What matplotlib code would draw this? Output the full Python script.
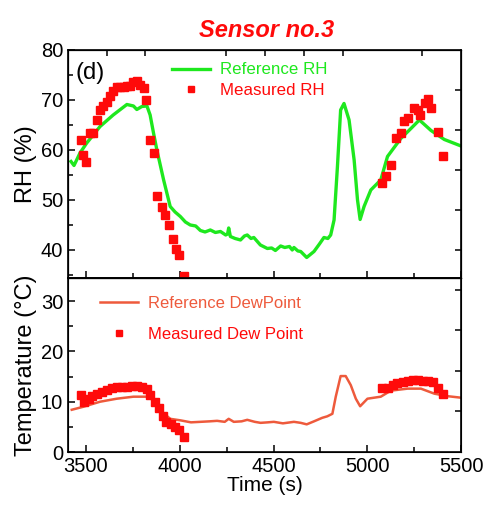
import matplotlib
matplotlib.use("Agg")
import matplotlib.pyplot as plt
from matplotlib.ticker import MultipleLocator, FixedLocator

plt.rcParams['font.family'] = ['Liberation Sans', 'DejaVu Sans']

# Reference relative humidity (sensor 3)
ref_rh_t = [3420, 3436, 3468, 3504, 3575, 3645, 3718, 3753, 3771, 3798, 3825, 3842,
            3860, 3878, 3914, 3949, 3975, 4003, 4030, 4056, 4085, 4110, 4135, 4163,
            4190, 4217, 4245, 4255, 4261, 4270, 4295, 4324, 4345, 4360, 4380, 4395,
            4430, 4467, 4490, 4510, 4538, 4560, 4585, 4600, 4609, 4630, 4645, 4677,
            4716, 4745, 4769, 4790, 4805, 4823, 4841, 4858, 4876, 4903, 4930, 4948,
            4962, 4983, 5019, 5072, 5108, 5179, 5233, 5278, 5340, 5411, 5500]
ref_rh = [57.7, 56.9, 59.4, 61.4, 64.7, 67.0, 69.1, 68.8, 68.1, 68.7, 68.8, 67.0,
          63.4, 60.0, 54.0, 48.7, 47.6, 46.7, 45.6, 45.0, 44.8, 43.9, 43.6, 44.0,
          43.5, 43.7, 43.0, 43.2, 44.4, 42.7, 42.3, 42.0, 42.8, 43.0, 42.3, 42.5,
          41.0, 40.3, 40.4, 39.9, 40.8, 40.5, 40.7, 40.0, 40.5, 39.8, 39.7, 38.5,
          39.7, 41.2, 42.5, 42.3, 43.0, 46.0, 56.7, 68.0, 69.3, 66.0, 58.0, 50.0,
          46.1, 48.7, 52.0, 54.0, 58.7, 62.3, 64.3, 66.0, 63.9, 62.1, 60.8]

# Measured relative humidity
meas_rh_t = [3474, 3486, 3499, 3522, 3539, 3557, 3575, 3593, 3611, 3629, 3646, 3664,
             3682, 3700, 3718, 3736, 3753, 3771, 3789, 3807, 3819, 3842, 3860, 3881,
             3903, 3923, 3940, 3962, 3980, 3998, 4021,
             5081, 5099, 5126, 5153, 5179, 5197, 5219, 5247, 5268, 5282, 5307, 5325,
             5340, 5379, 5402]
meas_rh = [62.0, 59.0, 57.5, 63.3, 63.3, 66.0, 68.0, 68.7, 69.5, 70.7, 71.7, 72.5,
           72.5, 72.5, 72.8, 72.8, 73.5, 73.7, 73.0, 72.3, 70.0, 62.0, 59.3, 50.7,
           48.5, 47.0, 45.0, 42.1, 40.1, 39.0, 34.7,
           53.3, 54.7, 57.0, 62.3, 63.3, 65.7, 66.3, 68.3, 68.0, 67.0, 69.3, 70.1,
           68.3, 63.5, 58.7]

# Reference dew point
ref_dp_t = [3424, 3486, 3575, 3664, 3753, 3825, 3860, 3896, 3949, 4003, 4060, 4110,
            4160, 4199, 4240, 4261, 4288, 4330, 4360, 4400, 4431, 4470, 4502, 4550,
            4609, 4645, 4677, 4716, 4760, 4787, 4814, 4832, 4858, 4885, 4912, 4939,
            4962, 5001, 5072, 5126, 5215, 5286, 5358, 5429, 5500]
ref_dp = [8.4, 9.0, 10.0, 10.6, 11.0, 11.0, 10.3, 8.3, 6.6, 6.3, 5.9, 6.0,
          6.1, 6.2, 6.0, 6.6, 6.0, 6.1, 6.4, 6.0, 5.8, 5.9, 6.0, 5.7,
          6.0, 5.8, 5.5, 6.1, 6.8, 7.1, 7.6, 11.0, 15.1, 15.1, 13.3, 10.6,
          9.1, 10.6, 11.0, 12.2, 12.6, 12.6, 11.6, 11.1, 10.8]

# Measured dew point
meas_dp_t = [3474, 3490, 3514, 3532, 3557, 3584, 3611, 3637, 3664, 3691, 3718, 3744,
             3771, 3798, 3825, 3842, 3869, 3890, 3912, 3929, 3952, 3973, 3996, 4021,
             5081, 5108, 5135, 5161, 5188, 5215, 5242, 5268, 5295, 5322, 5349, 5379,
             5402]
meas_dp = [11.3, 10.0, 10.6, 11.1, 11.6, 12.0, 12.4, 12.8, 12.9, 13.0, 13.0, 13.2,
           13.2, 13.0, 12.6, 11.3, 10.0, 8.7, 7.1, 6.0, 5.5, 5.0, 4.4, 3.0,
           12.7, 12.7, 13.4, 13.8, 14.0, 14.2, 14.4, 14.4, 14.2, 14.2, 14.0, 12.7,
           11.5]

x_ticks = [3500, 4000, 4500, 5000, 5500]

GREEN = '#1EE81E'
RED = '#FF0A0A'
CORAL = '#EE5A3C'

fig = plt.figure(figsize=(4.84, 5.08), dpi=100)
ax1 = fig.add_axes([0.1405, 0.4528, 0.812, 0.4488])
ax2 = fig.add_axes([0.1405, 0.1102, 0.812, 0.3426], sharex=ax1)

ax1.plot(ref_rh_t, ref_rh, color=GREEN, lw=2.4, label='Reference RH', zorder=2)
ax1.plot(meas_rh_t, meas_rh, ls='none', marker='s', ms=6.2, color=RED, mec=RED,
         label='Measured RH', clip_on=False, zorder=3)
ax2.plot(ref_dp_t, ref_dp, color=CORAL, lw=1.8, label='Reference DewPoint', zorder=2)
ax2.plot(meas_dp_t, meas_dp, ls='none', marker='s', ms=6.2, color=RED, mec=RED,
         label='Measured Dew Point', zorder=3)

ax1.set_xlim(3404, 5500)
ax1.set_ylim(34.4, 80)
ax2.set_ylim(0, 34.6)

for ax in (ax1, ax2):
    for s in ax.spines.values():
        s.set_linewidth(1.2)
    ax.xaxis.set_major_locator(FixedLocator(x_ticks))
    ax.xaxis.set_minor_locator(MultipleLocator(250))
    ax.yaxis.set_major_locator(MultipleLocator(10))
    ax.yaxis.set_minor_locator(MultipleLocator(5))
    ax.tick_params(which='both', direction='in', length=5, width=1.1,
                   labelsize=14.5, top=False, right=False)
    ax.tick_params(which='minor', length=3.5)

ax1.tick_params(axis='x', which='both', labelbottom=False)
ax1.set_yticks([40, 50, 60, 70, 80])

# secondary tick marks along the top and right frames
top = ax1.twiny()
top.set_xlim(ax1.get_xlim())
top.set_xticks([3612, 3814, 4247, 4452, 4661, 4869, 5290])
top.tick_params(direction='in', length=4, width=1.1, labeltop=False)
for ax, ticks in ((ax1, [72, 64, 56, 48, 40]), (ax2, [32.2, 24.2, 16.2, 8.2])):
    r = ax.twinx()
    r.set_ylim(ax.get_ylim())
    r.set_yticks(ticks)
    r.tick_params(direction='in', length=4, width=1.1, labelright=False)

ax1.set_ylabel('RH (%)', fontsize=17, labelpad=3)
ax2.set_ylabel('Temperature (°C)', fontsize=17, labelpad=3)
ax2.set_xlabel('Time (s)', fontsize=15, labelpad=0)

ax1.text(0.018, 0.90, '(d)', transform=ax1.transAxes, fontsize=17,
         ha='left', va='center')

leg1 = ax1.legend(loc='upper left', bbox_to_anchor=(0.24, 0.99), frameon=False,
                  fontsize=12.2, handlelength=2.2, handletextpad=0.6,
                  labelspacing=0.3, markerscale=0.65, borderaxespad=0.2)
for txt, c in zip(leg1.get_texts(), [GREEN, RED]):
    txt.set_color(c)

leg2 = ax2.legend(loc='upper left', bbox_to_anchor=(0.055, 0.955), frameon=False,
                  fontsize=12, handlelength=2.3, handletextpad=0.6,
                  labelspacing=0.95, markerscale=0.65, borderaxespad=0.2)
for txt, c in zip(leg2.get_texts(), [CORAL, RED]):
    txt.set_color(c)

fig.text(0.55, 0.94, 'Sensor no.3', color=RED, fontsize=17, fontweight='bold',
         fontstyle='italic', ha='center', va='center')

fig.savefig('out.png', dpi=100, facecolor='white')
